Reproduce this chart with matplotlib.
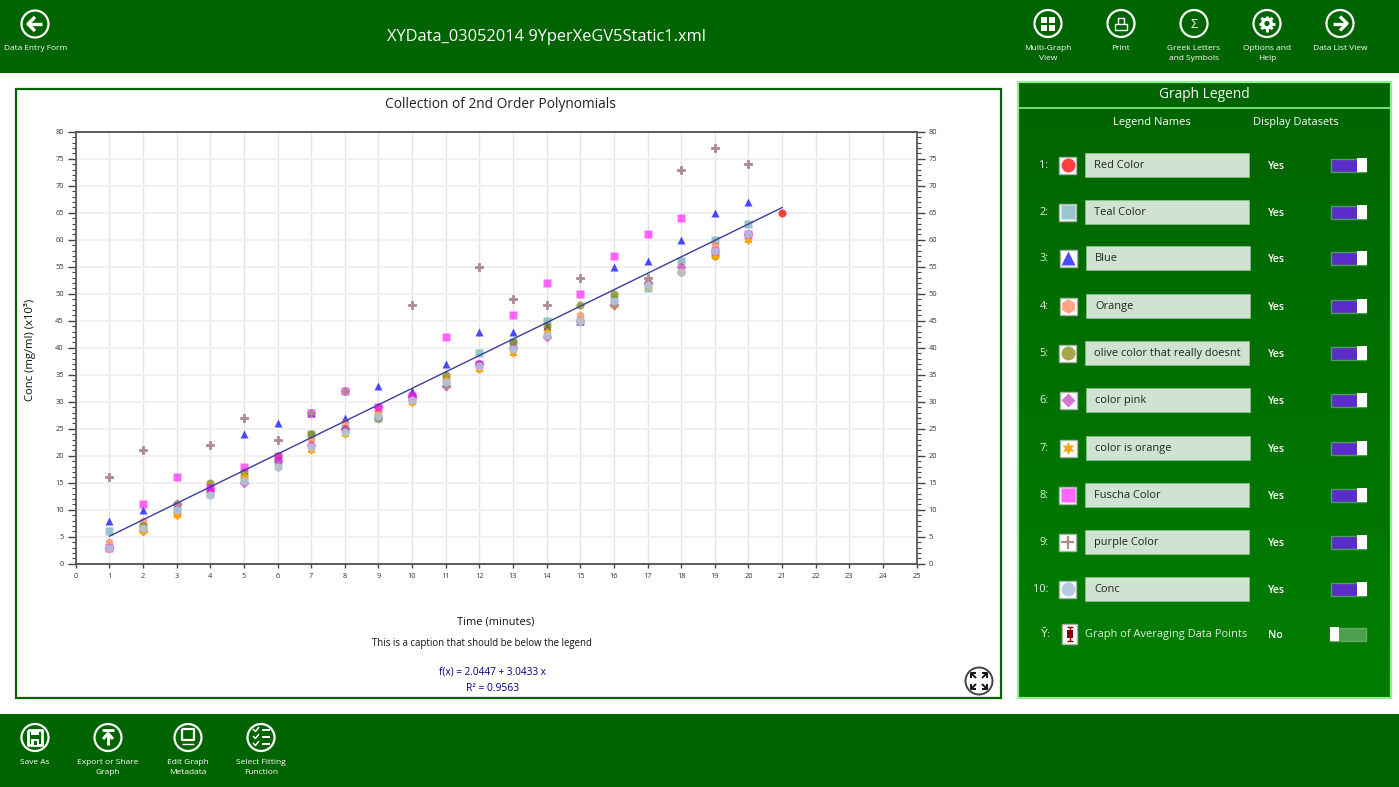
import numpy as np
import matplotlib
matplotlib.use("Agg")
import matplotlib.pyplot as plt
from matplotlib.patches import Circle, Rectangle

plt.rcParams['font.family'] = ['Open Sans', 'DejaVu Sans']

# ---------- data ----------
x_vals = list(range(1, 21))
red_x = [21]
red_y = [65]
teal_y = [6, 7, 10, 13, 16, 19, 24, 25, 27, 30.5, 34, 39, 41, 45, 45, 49, 51, 56, 60, 63]
blue_y = [8, 10, 10, 14, 24, 26, 28, 27, 33, 32, 37, 43, 43, 44, 45, 55, 56, 60, 65, 67]
salmon_y = [4, 8, 9, 13, 16, 18, 23, 26, 28, 30, 34, 36, 40, 42.5, 46, 48, 52, 54, 59, 61]
olive_y = [3, 7, 11, 15, 17, 20, 24, 25, 27, 31, 35, 37, 41, 44, 48, 50, 52, 54, 57, 61]
pink_y = [3, 6, 11, 14, 15, 19, 22, 25, 29, 31, 33, 37, 40, 42, 45, 48, 52, 55, 58, 61]
orange_y = [3, 6, 9, 13, 16, 18, 21, 24, 28, 30, 34, 36, 39, 43, 45, 48, 51.5, 54, 57, 60]
fuchsia_y = [3, 11, 16, 14, 18, 20, 28, 32, 29, 31, 42, 37, 46, 52, 50, 57, 61, 64, 58, 61]
plus_y = [16, 21, 11, 22, 27, 23, 28, 32, 27, 48, 33, 55, 49, 48, 53, 48, 53, 73, 77, 74]
conc_y = [3, 6.7, 10, 12.7, 15.3, 18, 21.7, 24.3, 27.3, 30.3, 33.7, 36.7, 39.7, 42.3, 45, 48.7, 51.7, 54, 58, 61]
fit_x = [1, 21]
fit_y = [5.09, 65.95]

legend_names = ["Red Color", "Teal Color", "Blue", "Orange", "olive color that really doesnt",
                "color pink", "color is orange", "Fuscha Color", "purple Color", "Conc"]
top_buttons = ["Multi-Graph\nView", "Print", "Greek Letters\nand Symbols", "Options and\nHelp", "Data List View"]
bottom_buttons = ["Save As", "Export or Share\nGraph", "Edit Graph\nMetadata", "Select Fitting\nFunction"]

# ---------- styles ----------
W, H = 1399, 787
DARK = '#006400'
fig = plt.figure(figsize=(W / 100, H / 100), dpi=100, facecolor='white')
ui = fig.add_axes([0, 0, 1, 1], zorder=0)
ui.set_xlim(0, W)
ui.set_ylim(H, 0)
ui.axis('off')


def T(x, y, s, px=11, c='white', ha='center', va='center', **kw):
    return ui.text(x, y + 2.0, s, fontsize=px * 0.72, color=c, ha=ha, va=va, **kw)


def R(x0, y0, x1, y1, fc, ec='none', lw=0, z=1):
    ui.add_patch(Rectangle((x0, y0), x1 - x0, y1 - y0, fc=fc, ec=ec, lw=lw, zorder=z))


# bars
R(0, 0, W, 72.5, DARK)
R(0, 714, W, H, DARK)
# plot panel
R(15.5, 88.5, 1000.5, 698, 'white', DARK, 1.6)
# legend panel
grad = np.linspace(0, 1, 256).reshape(-1, 1)
cmap = matplotlib.colors.LinearSegmentedColormap.from_list('g', ['#006400', '#007E00'])
ui.imshow(grad, extent=(1018, 1391, 698, 81), aspect='auto', cmap=cmap, zorder=1)
ui.set_xlim(0, W)
ui.set_ylim(H, 0)
R(1018, 81, 1391, 107, DARK, z=2)
ui.plot([1018, 1391], [107.5, 107.5], color='#90EE90', lw=1.2, zorder=3)
ui.add_patch(Rectangle((1018, 81.5), 373, 616.5, fc='none', ec='#90EE90', lw=1.6, zorder=3))


def ring(cx, cy, r=13.5):
    ui.add_patch(Circle((cx, cy), r, fc='none', ec='white', lw=1.6, zorder=4))


def L(xs, ys, lw=1.6, c='white'):
    ui.plot(xs, ys, color=c, lw=lw, zorder=5, solid_capstyle='butt')


def arrow_h(cx, cy, d):
    L([cx - 7 * d, cx + 6 * d], [cy, cy], 2.4)
    L([cx, cx + 7 * d, cx], [cy - 7, cy, cy + 7], 2.4)


# header
ring(35, 24)
arrow_h(35, 24, -1)
T(35.5, 46.5, "Data Entry Form", 8.3)
T(546, 35, "XYData_03052014 9YperXeGV5Static1.xml", 16.4)

top_x = [1048, 1121, 1194, 1267, 1340]
for cx, lab in zip(top_x, top_buttons):
    ring(cx, 23.5)
    T(cx, 42.5, lab, 8.4, va='top', linespacing=1.8)
for dx, dy in [(-7, -7), (1, -7), (-7, 1), (1, 1)]:
    R(top_x[0] + dx, 23.5 + dy, top_x[0] + dx + 6, 23.5 + dy + 6, 'white', z=5)
# print
cx = top_x[1]
L([cx - 6, cx - 6, cx + 6, cx + 6, cx - 6], [24, 30, 30, 24, 24], 1)
L([cx - 3, cx - 3, cx + 3, cx + 3], [24, 18, 18, 24], 1)
T(top_x[2], 22, "Σ", 13)
# gear
gx = top_x[3]
for a in np.deg2rad(np.arange(0, 180, 45)):
    L([gx - 8 * np.cos(a), gx + 8 * np.cos(a)], [23.5 - 8 * np.sin(a), 23.5 + 8 * np.sin(a)], 2.2)
ui.add_patch(Circle((gx, 23.5), 6, fc='white', ec='none', zorder=6))
ui.add_patch(Circle((gx, 23.5), 2.6, fc=DARK, ec='none', zorder=7))
arrow_h(top_x[4], 23.5, 1)

# footer
bot_x = [35, 108, 188, 261]
for cx, lab in zip(bot_x, bottom_buttons):
    ring(cx, 737.5)
    T(cx, 756.5, lab, 8.4, va='top', linespacing=1.8)
cx = bot_x[0]
L([cx - 7, cx - 7, cx + 7, cx + 7, cx - 7], [730, 745, 745, 730, 730], 2)
R(cx - 4, 730, cx + 4, 735, 'white', z=5)
R(cx - 4, 739, cx + 4, 745, 'white', z=5)
R(cx - 1, 741, cx + 2, 745, DARK, z=6)
cx = bot_x[1]
L([cx - 6, cx + 6], [730, 730], 2)
L([cx, cx], [745, 734], 2.2)
L([cx - 5, cx, cx + 5], [739, 733.5, 739], 2.2)
cx = bot_x[2]
L([cx - 6, cx - 6, cx + 6, cx + 6, cx - 6], [729, 740, 740, 729, 729], 1.6)
L([cx - 6, cx + 6], [744, 744], 1)
cx = bot_x[3]
for i, yy in enumerate([730, 737, 744]):
    L([cx - 8, cx - 5.5, cx - 2], [yy - 1, yy + 1.5, yy - 3], 1.1)
    L([cx + 1, cx + 9], [yy, yy], 1.4)

# expand button
ex, ey = 979, 681
ui.add_patch(Circle((ex, ey), 13.5, fc='white', ec='#444444', lw=1.4, zorder=4))
for sx in (-1, 1):
    for sy in (-1, 1):
        L([ex + sx * 8, ex + sx * 3], [ey + sy * 8, ey + sy * 3], 1.4, '#111111')
        L([ex + sx * 3, ex + sx * 8, ex + sx * 8], [ey + sy * 8, ey + sy * 8, ey + sy * 3], 1.4, '#111111')

# legend panel content
T(1204, 92.5, "Graph Legend", 13.7)
T(1152, 120.5, "Legend Names", 11.1)
T(1295.5, 120.5, "Display Datasets", 11.0)

styles = [
    dict(marker='o', color='#FF0000', alpha=0.75),
    dict(marker='s', color='#5FA8B0', alpha=0.65),
    dict(marker='^', color='#0000FF', alpha=0.7),
    dict(marker='h', color='#FF7F50', alpha=0.7),
    dict(marker='o', color='#808000', alpha=0.7),
    dict(marker='D', color='#C83CC8', alpha=0.7),
    dict(marker=(6, 1, 0), color='#FFA500', alpha=1.0),
    dict(marker='s', color='#FF00FF', alpha=0.6),
    dict(marker='P', color='#B08A8F', alpha=1.0),
    dict(marker='o', color='#B0C4DE', alpha=0.9),
]
ICON_MS = {'o': 10, 's': 9.8, '^': 10.5, 'h': 10.5, 'D': 6.8}

row_y = [165, 212, 258, 306, 353, 400, 448, 495, 542, 589]
box_dx = [0, 0, 1, 1, 0, 1, 1, 0, 0, 0]
for i, (ry, name, st, d) in enumerate(zip(row_y, legend_names, styles, box_dx)):
    T(1048.5, ry - 1.5, f"{i + 1}:", 11, '#DDF2DD', ha='right')
    R(1059 + d * 0.5, ry - 8.5, 1076 + d * 0.5, ry + 8.5, 'white', '#A8B8A8', 1, z=4)
    if i == 8:
        L([1061, 1074], [ry, ry], 1.6, '#B08A8F')
        L([1067.5, 1067.5], [ry - 6.5, ry + 6.5], 1.6, '#B08A8F')
    else:
        ms = ICON_MS.get(st['marker'], 9.5) if isinstance(st['marker'], str) else 9.5
        ui.plot([1067.5 + d * 0.5], [ry], linestyle='none', mec='none', ms=ms, zorder=5, **st)
    R(1085 + d, ry - 12, 1249 + d, ry + 12, '#CFE3D0', '#8CC08C', 0.6, z=4)
    T(1094 + d, ry - 1.5, name, 11.0, '#222222', ha='left', zorder=6)
    T(1275.5, ry - 0.5, "Yes", 10.6, fontweight='semibold', zorder=6)
    R(1330.5, ry - 6.5, 1366, ry + 6.5, '#5A2DC8', '#4E9E5A', 1, z=4)
    R(1357, ry - 7, 1366.5, ry + 7, 'white', z=5)

# averaging row
ay = 634
T(1046, ay - 2, "Ȳ:", 11, '#DDF2DD', family='DejaVu Sans')
R(1062, ay - 10, 1077, ay + 10, 'white', '#A8B8A8', 1, z=4)
L([1069.5, 1069.5], [ay - 7, ay + 7], 1, '#8B0000')
L([1066.5, 1072.5], [ay - 7, ay - 7], 1, '#8B0000')
L([1066.5, 1072.5], [ay + 7, ay + 7], 1, '#8B0000')
R(1066.5, ay - 4, 1072.5, ay + 4, '#8B0000', z=6)
T(1085, ay - 2, "Graph of Averaging Data Points", 11.05, '#DDF2DD', ha='left')
T(1275, ay - 0.5, "No", 10.6, fontweight='semibold')
R(1330, ay - 6.5, 1366, ay + 6.5, '#4C9F4C', '#66AA66', 1, z=4)
R(1330, ay - 7, 1339, ay + 7, 'white', z=5)

# plot panel text
T(500, 102, "Collection of 2nd Order Polynomials", 13.8, '#222222')
T(496, 619.5, "Time (minutes)", 11, '#111111')
T(481.5, 641.5, "This is a caption that should be below the legend", 9.65, '#111111')
T(492.5, 670.5, "f(x) = 2.0447 + 3.0433 x", 10.0, '#000080')
T(492.5, 686.5, "R² = 0.9563", 10.2, '#000080')
T(29.5, 348, "Conc (mg/ml) (x10³)", 11.2, '#111111', rotation=90)

# ---------- chart ----------
ax = fig.add_axes([75.7 / W, 1 - 563.7 / H, 841 / W, 432 / H], zorder=2)
ax.patch.set_alpha(0)
ax.set_xlim(0, 25)
ax.set_ylim(0, 80)
ax.set_xticks(range(0, 26))
ax.set_yticks(range(0, 81, 5))
ax.set_yticks(range(0, 81), minor=True)
ax.grid(True, axis='x', color='#E4E4E4', lw=1.0, zorder=0)
ax.grid(True, axis='y', color='#F0F0F0', lw=1.5, zorder=0)
ax.set_axisbelow(True)
for s, lw in zip(['top', 'bottom', 'left', 'right'], [1.4, 1.4, 1.3, 1.3]):
    ax.spines[s].set_linewidth(lw)
    ax.spines[s].set_color('#5A5A5A')
ax.tick_params(axis='y', which='major', length=6, width=1, color='#444444', labelsize=5.4,
               labelcolor='#333333', pad=2.5, left=True, right=True, labelleft=True, labelright=True)
ax.tick_params(axis='y', which='minor', length=3, width=0.8, color='#444444', left=True, right=True)
ax.tick_params(axis='x', which='major', length=3, width=1, color='#444444', labelsize=5.4,
               labelcolor='#333333', pad=3.5)

MS = {'o': 5.8, 's': 5.4, '^': 5.4, 'h': 6.0, 'D': 4.8}
series = [teal_y, blue_y, salmon_y, olive_y, pink_y, orange_y, fuchsia_y, plus_y, conc_y]
ax.plot(red_x, red_y, linestyle='none', mec='none', ms=5.8, zorder=3, **styles[0])
for k, (ys, st) in enumerate(zip(series, styles[1:])):
    mk = st['marker']
    if mk == 'P':
        ax.plot(x_vals, ys, linestyle='none', mec=st['color'], mew=0.6, ms=5.4,
                zorder=3 + k * 0.01, **st)
    elif isinstance(mk, tuple):
        ax.plot(x_vals, ys, linestyle='none', mec=st['color'], mew=0.9, ms=5.6,
                zorder=3 + k * 0.01, **st)
    else:
        ax.plot(x_vals, ys, linestyle='none', mec='none', ms=MS[mk], zorder=3 + k * 0.01, **st)
ax.plot(fit_x, fit_y, color='#3C3C9C', lw=1.0, zorder=4)

fig.savefig('out.png', dpi=100, facecolor='white')
